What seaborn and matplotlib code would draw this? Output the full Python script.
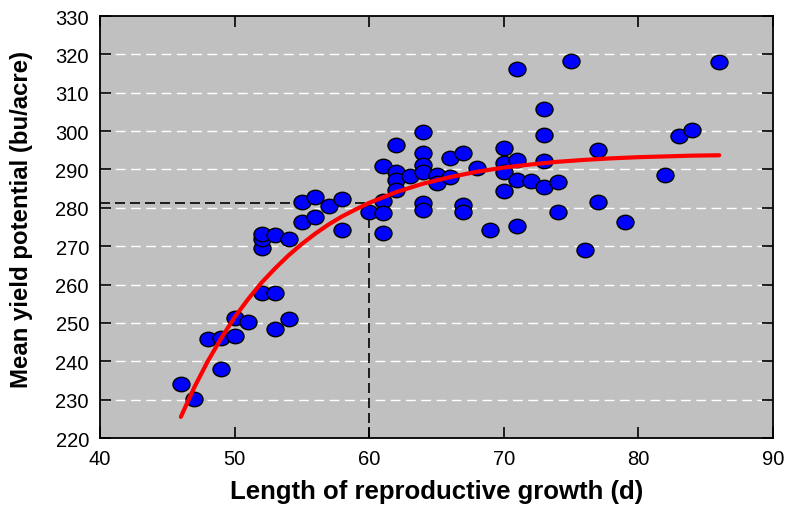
import numpy as np
import pandas as pd
import matplotlib
matplotlib.use('Agg')
import matplotlib.pyplot as plt
from matplotlib.path import Path
import seaborn as sns

days = [46, 47, 48, 49, 49, 50, 50, 51, 52, 52, 52, 52, 53, 53, 53, 54, 54,
        55, 55, 56, 56, 57, 58, 58, 60, 61, 61, 61, 61, 62, 62, 62, 62, 63,
        64, 64, 64, 64, 64, 64, 65, 65, 66, 66, 67, 67, 67, 68, 69, 70, 70,
        70, 70, 71, 71, 71, 71, 72, 73, 73, 73, 73, 74, 74, 75, 76, 77, 77,
        79, 82, 83, 84, 86]
yield_bu = [234.2, 230.1, 245.8, 246, 238.1, 246.5, 251.3, 250.3, 257.7, 269.5,
            271.8, 273.1, 257.9, 248.3, 272.8, 251.1, 271.8,
            276.4, 281.5, 277.7, 282.9, 280.6, 282.4, 274.1, 278.9, 281.8, 278.6,
            273.5, 290.9, 296.5, 289.4, 287.2, 284.6, 288.3,
            299.8, 294.2, 291.2, 289.3, 281.2, 279.4, 288.5, 286.4, 293.1, 288.1,
            294.4, 280.7, 279.0, 290.3, 274.1, 295.5, 291.8,
            289.4, 284.4, 292.5, 287.2, 275.3, 316.1, 287.0, 305.7, 299.1, 292.3,
            285.3, 286.7, 279.0, 318.2, 269.0, 295.0, 281.5,
            276.2, 288.5, 298.7, 300.4, 318.1]

# 拟合曲线
curve_x = [46, 47, 48, 49, 50, 51, 52, 53, 54, 55, 56, 57, 58, 59, 60,
           62, 64, 66, 68, 70, 72, 74, 76, 78, 80, 82, 84, 86]
curve_y = [225.5, 233.2, 240.0, 246.0, 251.5, 256.2, 260.5, 264.2, 267.6,
           270.6, 273.3, 275.7, 277.8, 279.6, 281.3,
           284.1, 286.3, 288.0, 289.4, 290.5, 291.3, 292.0, 292.5, 292.9,
           293.2, 293.4, 293.6, 293.7]

x_ref = 60
y_ref = 281.3

df = pd.DataFrame({'d': days, 'y': yield_bu})
fit = pd.DataFrame({'d': curve_x, 'y': curve_y})

sns.set_style('ticks')
plt.rcParams['font.family'] = ['Liberation Sans', 'DejaVu Sans']
plt.rcParams['text.color'] = 'black'
plt.rcParams['axes.labelcolor'] = 'black'

fig = plt.figure(figsize=(7.88, 5.06), dpi=100)
ax = fig.add_axes([0.127, 0.1324, 0.854, 0.834])
ax.set_facecolor('#c0c0c0')

for v in range(230, 330, 10):
    ax.axhline(v, color='white', lw=1, ls=(0, (7, 4)), zorder=0)

# 参考虚线
ax.plot([40, x_ref], [y_ref, y_ref], color='black', lw=1.2, ls=(0, (6, 3)), zorder=1)
ax.plot([x_ref, x_ref], [220, y_ref], color='black', lw=1.2, ls=(0, (6, 3)), zorder=1)

circ = Path.unit_circle()
ellipse = Path(circ.vertices * np.array([1.0, 0.85]), circ.codes)

sns.scatterplot(data=df, x='d', y='y', ax=ax, marker=ellipse, s=150,
                color='#0000ff', edgecolor='black', linewidth=1, zorder=2)
sns.lineplot(data=fit, x='d', y='y', ax=ax, color='#ff0000', lw=3, zorder=3)

ax.set_xlim(40, 90)
ax.set_ylim(220, 330)
ax.set_xticks(range(40, 91, 10))
ax.set_yticks(range(220, 331, 10))
ax.tick_params(direction='in', length=8, width=1.2, top=True, right=True,
               labelsize=14.5, colors='black', labelcolor='black', pad=8)
for s in ax.spines.values():
    s.set_linewidth(1.3)
    s.set_color('black')

ax.set_xlabel('Length of reproductive growth (d)', fontsize=18.5, fontweight='bold',
              labelpad=8, color='black')
ax.set_ylabel('Mean yield potential (bu/acre)', fontsize=17.3, fontweight='bold',
              color='black')
ax.yaxis.set_label_coords(-0.10, 0.52)

plt.savefig('out.png', dpi=100)
